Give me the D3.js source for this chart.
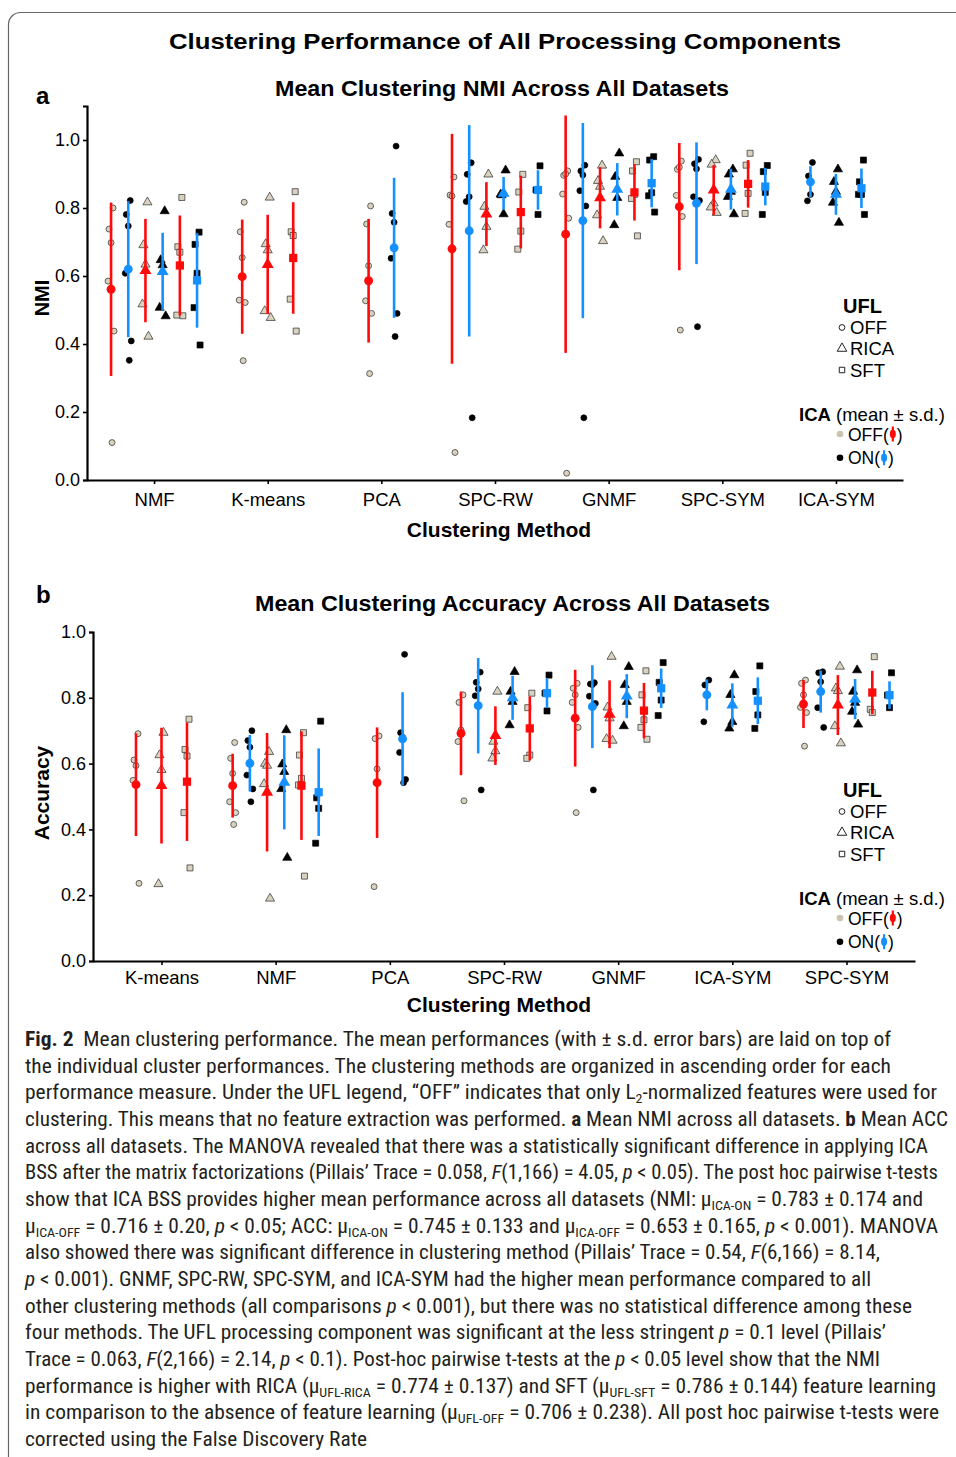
<!DOCTYPE html>
<html><head><meta charset="utf-8">
<script src="https://cdn.jsdelivr.net/npm/d3@7"></script>
<style>body{margin:0;background:#fff}text{white-space:pre}</style>
</head><body><svg id="c" width="956" height="1457"></svg>
<script>
// ---------------- DATA ----------------
const seriesKeys = ["OFF_icaOff","OFF_icaOn","RICA_icaOff","RICA_icaOn","SFT_icaOff","SFT_icaOn"];
const seriesUFL  = ["OFF","OFF","RICA","RICA","SFT","SFT"];
const seriesICA  = ["off","on","off","on","off","on"];
const uflLabels = ["OFF","RICA","SFT"];

// Panel a : NMI
const nmiCategories = ["NMF","K-means","PCA","SPC-RW","GNMF","SPC-SYM","ICA-SYM"];
const nmiTicks = [0.0,0.2,0.4,0.6,0.8,1.0];
const nmiMean_OFF_icaOff  = [0.561,0.598,0.586,0.680,0.723,0.804,null];
const nmiMean_OFF_icaOn   = [0.620,null,0.683,0.733,0.763,0.814,0.877];
const nmiMean_RICA_icaOff = [0.616,0.634,null,0.782,0.830,0.853,null];
const nmiMean_RICA_icaOn  = [0.613,null,null,0.843,0.855,0.855,0.840];
const nmiMean_SFT_icaOff  = [0.631,0.653,null,0.788,0.846,0.871,null];
const nmiMean_SFT_icaOn   = [0.587,null,null,0.853,0.873,0.863,0.858];
const nmiSD_OFF_icaOff  = [0.255,0.168,0.182,0.338,0.349,0.187,null];
const nmiSD_OFF_icaOn   = [0.200,null,0.206,0.311,0.287,0.179,0.046];
const nmiSD_RICA_icaOff = [0.152,0.146,null,0.094,0.090,0.073,null];
const nmiSD_RICA_icaOn  = [0.114,null,null,0.048,0.077,0.060,0.060];
const nmiSD_SFT_icaOff  = [0.147,0.164,null,0.107,0.083,0.070,null];
const nmiSD_SFT_icaOn   = [0.139,null,null,0.058,0.071,0.055,0.058];
const nmiPts_OFF_icaOff = [[0.80,0.738,0.698,0.585,0.438,0.11],[0.817,0.73,0.654,0.529,0.522,0.351],[0.806,0.753,0.63,0.527,0.49,0.313],[0.891,0.838,0.835,0.752,0.081],[0.909,0.896,0.90,0.841,0.77,0.02],[0.938,0.914,0.92,0.837,0.775,0.441],null];
const nmiPts_OFF_icaOn  = [[0.822,0.781,0.747,0.608,0.409,0.352],null,[0.982,0.784,0.758,0.652,0.49,0.422],[0.933,0.899,0.833,0.819,0.183],[0.926,0.909,0.897,0.851,0.806,0.183],[0.943,0.93,0.915,0.833,0.822,0.451],[0.934,0.894,0.84,0.821]];
const nmiPts_RICA_icaOff = [[0.817,0.691,0.634,0.517,0.422],[0.831,0.694,0.676,0.497,0.477],null,[0.899,0.804,0.745,0.676],[0.925,0.88,0.863,0.779,0.703],[0.941,0.928,0.814,0.802,0.786],null];
const nmiPts_RICA_icaOn  = [[0.791,0.647,0.632,0.507,0.482],null,null,[0.911,0.838,0.782,0.84],[0.961,0.892,0.83,0.75],[0.914,0.899,0.848,0.833,0.782],[0.914,0.877,0.848,0.816,0.757]];
const nmiPts_SFT_icaOff  = [[0.831,0.686,0.67,0.485,0.483],[0.848,0.73,0.719,0.532,0.438],null,[0.899,0.847,0.732,0.679],[0.936,0.909,0.84,0.828,0.718],[0.961,0.926,0.843,0.784],null];
const nmiPts_SFT_icaOn   = [[0.729,0.693,0.608,0.507,0.397],null,null,[0.924,0.853,0.781],[0.951,0.941,0.845,0.836,0.788],[0.925,0.907,0.846,0.781],[0.941,0.877,0.84,0.84,0.781]];

// Panel b : Accuracy
const accCategories = ["K-means","NMF","PCA","SPC-RW","GNMF","ICA-SYM","SPC-SYM"];
const accTicks = [0.0,0.2,0.4,0.6,0.8,1.0];
const accMean_OFF_icaOff  = [0.536,0.533,0.542,0.692,0.738,null,0.781];
const accMean_OFF_icaOn   = [null,0.601,0.675,0.776,0.773,0.809,0.819];
const accMean_RICA_icaOff = [0.533,0.513,null,0.685,0.750,null,0.778];
const accMean_RICA_icaOn  = [null,0.543,null,0.800,0.805,0.778,0.796];
const accMean_SFT_icaOff  = [0.545,0.533,null,0.707,0.761,null,0.816];
const accMean_SFT_icaOn   = [null,0.513,null,0.814,0.829,0.791,0.808];
const accSD_OFF_icaOff  = [0.156,0.097,0.168,0.127,0.147,null,0.073];
const accSD_OFF_icaOn   = [null,0.086,0.142,0.145,0.126,0.047,0.064];
const accSD_RICA_icaOff = [0.176,0.180,null,0.089,0.103,null,0.091];
const accSD_RICA_icaOn  = [null,0.143,null,0.067,0.067,0.066,0.061];
const accSD_SFT_icaOff  = [0.180,0.165,null,0.097,0.084,null,0.066];
const accSD_SFT_icaOn   = [null,0.133,null,0.045,0.060,0.071,0.042];
const accPts_OFF_icaOff = [[0.691,0.611,0.594,0.549,0.236],[0.664,0.616,0.57,0.484,0.451,0.415],[0.684,0.676,0.584,0.226],[0.809,0.786,0.702,0.667,0.487],[0.844,0.829,0.809,0.786,0.71,0.451],null,[0.854,0.844,0.809,0.771,0.755,0.653]];
const accPts_OFF_icaOn  = [null,[0.70,0.67,0.65,0.565,0.523,0.484],[0.932,0.694,0.68,0.634,0.552,0.542],[0.878,0.847,0.827,0.806,0.52],[0.846,0.842,0.84,0.805,0.783,0.52],[0.854,0.839,0.81,0.727],[0.879,0.876,0.849,0.77,0.71]];
const accPts_RICA_icaOff = [[0.694,0.626,0.581,0.234],[0.636,0.60,0.594,0.538,0.19],null,[0.819,0.667,0.638,0.616],[0.925,0.771,0.738,0.675,0.67],null,[0.895,0.829,0.821,0.714,0.662]];
const accPts_RICA_icaOn  = [null,[0.702,0.598,0.575,0.523,0.314],null,[0.879,0.819,0.788,0.717],[0.894,0.839,0.788,0.714],[0.869,0.809,0.727,0.707],[0.884,0.819,0.785,0.758,0.719]];
const accPts_SFT_icaOff  = [[0.735,0.643,0.623,0.451,0.283],[0.694,0.626,0.555,0.535,0.258],null,[0.814,0.77,0.626,0.616],[0.882,0.809,0.733,0.71,0.674],null,[0.925,0.765,0.755]];
const accPts_SFT_icaOn   = [null,[0.729,0.496,0.464,0.358],null,[0.869,0.814,0.76],[0.907,0.847,0.793,0.746],[0.897,0.819,0.748,0.707],[0.876,0.808,0.77]];

// Caption
const captionLines = [
 [["Fig. 2","b"],["  Mean clustering performance. The mean performances (with ± s.d. error bars) are laid on top of",""]],
 [["the individual cluster performances. The clustering methods are organized in ascending order for each",""]],
 [["performance measure. Under the UFL legend, “OFF” indicates that only L",""],["2","sub"],["-normalized features were used for",""]],
 [["clustering. This means that no feature extraction was performed. ",""],["a","b"],[" Mean NMI across all datasets. ",""],["b","b"],[" Mean ACC",""]],
 [["across all datasets. The MANOVA revealed that there was a statistically significant difference in applying ICA",""]],
 [["BSS after the matrix factorizations (Pillais’ Trace = 0.058, ",""],["F","i"],["(1,166) = 4.05, ",""],["p","i"],[" < 0.05). The post hoc pairwise t-tests",""]],
 [["show that ICA BSS provides higher mean performance across all datasets (NMI: μ",""],["ICA-ON","sub"],[" = 0.783 ± 0.174 and",""]],
 [["μ",""],["ICA-OFF","sub"],[" = 0.716 ± 0.20, ",""],["p","i"],[" < 0.05; ACC: μ",""],["ICA-ON","sub"],[" = 0.745 ± 0.133 and μ",""],["ICA-OFF","sub"],[" = 0.653 ± 0.165, ",""],["p","i"],[" < 0.001). MANOVA",""]],
 [["also showed there was significant difference in clustering method (Pillais’ Trace = 0.54, ",""],["F","i"],["(6,166) = 8.14,",""]],
 [["p","i"],[" < 0.001). GNMF, SPC-RW, SPC-SYM, and ICA-SYM had the higher mean performance compared to all",""]],
 [["other clustering methods (all comparisons ",""],["p","i"],[" < 0.001), but there was no statistical difference among these",""]],
 [["four methods. The UFL processing component was significant at the less stringent ",""],["p","i"],[" = 0.1 level (Pillais’",""]],
 [["Trace = 0.063, ",""],["F","i"],["(2,166) = 2.14, ",""],["p","i"],[" < 0.1). Post-hoc pairwise t-tests at the ",""],["p","i"],[" < 0.05 level show that the NMI",""]],
 [["performance is higher with RICA (μ",""],["UFL-RICA","sub"],[" = 0.774 ± 0.137) and SFT (μ",""],["UFL-SFT","sub"],[" = 0.786 ± 0.144) feature learning",""]],
 [["in comparison to the absence of feature learning (μ",""],["UFL-OFF","sub"],[" = 0.706 ± 0.238). All post hoc pairwise t-tests were",""]],
 [["corrected using the False Discovery Rate",""]]
];
const captionLineEnds = [891,891,937,948,928,938,923,938,880,871,912,886,880,936,939,367];

// ---------------- DRAWING ----------------
const svg = d3.select("#c");
const mainFont = "'Liberation Sans',Arial,Helvetica,sans-serif";
const capFont = "'Liberation Sans Narrow','Arial Narrow','Roboto Condensed',Roboto,sans-serif";
const RED = "#ff0a0a", BLUE = "#1591ff", BEIGE = "#d8d2bf", EDGE = "#2a2a2a";
const shapeOf = {OFF: d3.symbolCircle, RICA: d3.symbolTriangle, SFT: d3.symbolSquare};
const ptSize = {OFF: 28, RICA: 36, SFT: 36};
const meanSize = {OFF: 62, RICA: 62, SFT: 68};
const jitterPattern = [2,-2,0,-3,3,1,-1];

// frame
svg.append("rect").attr("x",8.5).attr("y",12.5).attr("width",1000).attr("height",1500)
  .attr("rx",12).attr("fill","none").attr("stroke","#666").attr("stroke-width",1.2);

svg.append("text").attr("x",505).attr("y",49).attr("text-anchor","middle")
  .attr("font-family",mainFont).attr("font-weight","bold").attr("font-size",22.5)
  .attr("textLength",672).attr("lengthAdjust","spacingAndGlyphs")
  .text("Clustering Performance of All Processing Components");

function panel(cfg){
  const g = svg.append("g");
  const x = d3.scalePoint().domain(cfg.cats).range(cfg.xRange).padding(cfg.pad);
  const y = d3.scaleLinear().domain(cfg.yDomain).range(cfg.yRange);

  // axes
  const yAx = g.append("g").attr("transform",`translate(${cfg.xRange[0]},0)`)
    .call(d3.axisLeft(y).tickValues(cfg.ticks).tickFormat(d3.format(".1f")).tickSize(4).tickSizeOuter(4).tickPadding(3));
  const xAx = g.append("g").attr("transform",`translate(0,${y(0)})`)
    .call(d3.axisBottom(x).tickSize(4).tickSizeOuter(0).tickPadding(cfg.xPad));
  [yAx,xAx].forEach(a=>{
    a.select(".domain").attr("stroke","#000").attr("stroke-width",2.2);
    a.selectAll(".tick line").attr("stroke","#000").attr("stroke-width",1.6);
    a.selectAll("text").attr("font-family",mainFont).attr("fill","#000");
  });
  yAx.selectAll("text").attr("font-size",18);
  xAx.selectAll("text").attr("font-size",18.5);

  // sub positions
  const keyed = seriesKeys.map((k,si)=>({k, si, ufl: seriesUFL[si], ica: seriesICA[si],
      mean: cfg.mean[si], sd: cfg.sd[si], pts: cfg.pts[si]}));
  const items = [];
  cfg.cats.forEach((c,ci)=>{
    const present = keyed.filter(s=>s.mean[ci]!=null);
    const n = present.length;
    const sp = n===6 ? 17.2 : 25.5;
    const sub = d3.scalePoint().domain(present.map(s=>s.k)).range([-(n-1)*sp/2,(n-1)*sp/2]);
    present.forEach(s=>{
      items.push({cx: x(c)+sub(s.k), ufl:s.ufl, ica:s.ica, mean:s.mean[ci], sd:s.sd[ci], pts:s.pts[ci]||[]});
    });
  });
  // individual points
  const pg = g.append("g");
  items.forEach(it=>{
    it.pts.forEach((v,i)=>{
      pg.append("path").attr("d",d3.symbol().type(shapeOf[it.ufl]).size(ptSize[it.ufl])())
        .attr("transform",`translate(${it.cx+jitterPattern[i%jitterPattern.length]},${y(v)})`)
        .attr("fill", it.ica==="off"?BEIGE:"#000")
        .attr("stroke", it.ica==="off"?EDGE:"#000").attr("stroke-width",0.7);
    });
  });
  // mean +- sd
  const mg = g.append("g");
  items.forEach(it=>{
    const col = it.ica==="off"?RED:BLUE;
    mg.append("line").attr("x1",it.cx).attr("x2",it.cx)
      .attr("y1",y(it.mean-it.sd)).attr("y2",y(it.mean+it.sd))
      .attr("stroke",col).attr("stroke-width",2.6);
    mg.append("path").attr("d",d3.symbol().type(shapeOf[it.ufl]).size(meanSize[it.ufl])())
      .attr("transform",`translate(${it.cx},${y(it.mean)})`).attr("fill",col);
  });

  // titles
  svg.append("text").attr("x",cfg.titleX).attr("y",cfg.titleY).attr("text-anchor","middle")
    .attr("font-family",mainFont).attr("font-weight","bold").attr("font-size",22.5)
    .attr("textLength",cfg.titleLen).attr("lengthAdjust","spacingAndGlyphs").text(cfg.title);
  svg.append("text").attr("x",36).attr("y",cfg.letterY).attr("font-family",mainFont)
    .attr("font-weight","bold").attr("font-size",24).text(cfg.letter);
  svg.append("text").attr("x",499).attr("y",cfg.xTitleY).attr("text-anchor","middle")
    .attr("font-family",mainFont).attr("font-weight","bold").attr("font-size",21).text("Clustering Method");
  svg.append("text").attr("transform",`translate(49,${cfg.yTitleY}) rotate(-90)`).attr("text-anchor","middle")
    .attr("font-family",mainFont).attr("font-weight","bold").attr("font-size",cfg.yTitleSize).text(cfg.yTitle);

  // legend
  const L = svg.append("g").attr("transform",`translate(0,${cfg.legDy})`).attr("font-family",mainFont);
  L.append("text").attr("x",862.5).attr("y",313).attr("text-anchor","middle").attr("font-weight","bold")
    .attr("font-size",20).text("UFL");
  uflLabels.forEach((u,i)=>{
    const cy = [327.5,348.5,370][i];
    L.append("path").attr("d",d3.symbol().type(shapeOf[u]).size(u==="OFF"?26:u==="RICA"?40:30)())
      .attr("transform",`translate(842,${cy})`).attr("fill","#fff").attr("stroke","#222").attr("stroke-width",1);
    L.append("text").attr("x",850).attr("y",cy+6.5).attr("font-size",18.5).text(u);
  });
  const ica = L.append("text").attr("x",799).attr("y",421).attr("font-size",18.5);
  ica.append("tspan").attr("font-weight","bold").text("ICA");
  ica.append("tspan").text(" (mean ± s.d.)");
  [["OFF",434,"#c9c3b0",RED],["ON",457.7,"#000",BLUE]].forEach(([lab,cy,dot,col])=>{
    L.append("circle").attr("cx",840).attr("cy",cy).attr("r",3.3).attr("fill",dot);
    const t = L.append("text").attr("x",848).attr("y",cy+6.5).attr("font-size",17.5).text(lab+"(");
    const w = t.node().getComputedTextLength();
    const gx = 848+w+4;
    L.append("line").attr("x1",gx).attr("x2",gx).attr("y1",cy-7.5).attr("y2",cy+7.5).attr("stroke",col).attr("stroke-width",2.2);
    L.append("ellipse").attr("cx",gx).attr("cy",cy).attr("rx",3).attr("ry",4.2).attr("fill",col);
    L.append("text").attr("x",gx+4).attr("y",cy+6.5).attr("font-size",17.5).text(")");
  });
}

panel({cats:nmiCategories, xRange:[87,903], pad:0.59, yDomain:[0,1.1], yRange:[480,106], ticks:nmiTicks, xPad:9,
  mean:[nmiMean_OFF_icaOff,nmiMean_OFF_icaOn,nmiMean_RICA_icaOff,nmiMean_RICA_icaOn,nmiMean_SFT_icaOff,nmiMean_SFT_icaOn],
  sd:[nmiSD_OFF_icaOff,nmiSD_OFF_icaOn,nmiSD_RICA_icaOff,nmiSD_RICA_icaOn,nmiSD_SFT_icaOff,nmiSD_SFT_icaOn],
  pts:[nmiPts_OFF_icaOff,nmiPts_OFF_icaOn,nmiPts_RICA_icaOff,nmiPts_RICA_icaOn,nmiPts_SFT_icaOff,nmiPts_SFT_icaOn],
  title:"Mean Clustering NMI Across All Datasets", titleX:502, titleY:96, titleLen:454,
  letter:"a", letterY:104, xTitleY:537, yTitle:"NMI", yTitleY:298, yTitleSize:20, legDy:0});

panel({cats:accCategories, xRange:[93,915], pad:0.6, yDomain:[0,1.0], yRange:[961,632], ticks:accTicks, xPad:6,
  mean:[accMean_OFF_icaOff,accMean_OFF_icaOn,accMean_RICA_icaOff,accMean_RICA_icaOn,accMean_SFT_icaOff,accMean_SFT_icaOn],
  sd:[accSD_OFF_icaOff,accSD_OFF_icaOn,accSD_RICA_icaOff,accSD_RICA_icaOn,accSD_SFT_icaOff,accSD_SFT_icaOn],
  pts:[accPts_OFF_icaOff,accPts_OFF_icaOn,accPts_RICA_icaOff,accPts_RICA_icaOn,accPts_SFT_icaOff,accPts_SFT_icaOn],
  title:"Mean Clustering Accuracy Across All Datasets", titleX:512.5, titleY:611, titleLen:515,
  letter:"b", letterY:603, xTitleY:1012, yTitle:"Accuracy", yTitleY:793, yTitleSize:21, legDy:484});

// caption
captionLines.forEach((segs,i)=>{
  const t = svg.append("text").attr("x",25).attr("y",1046+i*26.67)
    .attr("font-family",capFont).attr("font-size",20).attr("fill","#231f20");
  let inSub = false;
  segs.forEach(([s,st])=>{
    const ts = t.append("tspan").text(s);
    if (st==="b") ts.attr("font-weight","bold");
    if (st==="i") ts.attr("font-style","italic");
    if (st==="sub"){ ts.attr("font-size",13).attr("dy",4); inSub = true; }
    else if (inSub){ ts.attr("dy",-4); inSub = false; }
  });
  t.attr("textLength",captionLineEnds[i]-25).attr("lengthAdjust","spacingAndGlyphs");
});
</script></body></html>
